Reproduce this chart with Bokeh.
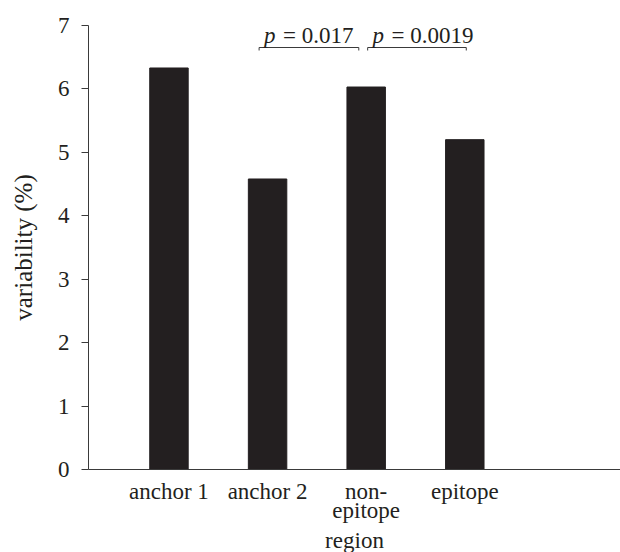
from bokeh.plotting import figure
from bokeh.models import Range1d, FixedTicker, ColumnDataSource, Title
from bokeh.core.properties import value
from bokeh.embed import file_html
from bokeh.resources import INLINE

categories = ["anchor 1", "anchor 2", "non-\nepitope", "epitope"]
variability = [6.33, 4.58, 6.03, 5.20]
y_ticks = [0, 1, 2, 3, 4, 5, 6, 7]
comparisons = [(2, 3, "= 0.017"), (3, 4, "= 0.0019")]
x_title = "region"
y_title = "variability (%)"

FONT = "Liberation Serif"
FS = "23px"
BAR = "#231f20"
AX = "#3a3a3a"
TXT = "#231f20"

xs = list(range(1, len(categories) + 1))

p = figure(width=620, height=552, output_backend="svg", toolbar_location=None,
           x_range=Range1d(0.184, 5.579), y_range=Range1d(0, 7),
           min_border_left=88, min_border_top=25, min_border_right=0, min_border_bottom=83)
p.outline_line_color = None
p.grid.grid_line_color = None
p.background_fill_color = "white"

src = ColumnDataSource(dict(x=xs, top=variability))
p.vbar(x="x", top="top", width=0.39, bottom=0, source=src, fill_color=BAR, line_color=BAR)

# y axis
ya = p.yaxis[0]
ya.ticker = FixedTicker(ticks=y_ticks)
ya.minor_tick_line_color = None
ya.major_tick_in = 0
ya.major_tick_out = 7
ya.axis_line_color = AX
ya.major_tick_line_color = AX
ya.major_label_text_font = FONT
ya.major_label_text_font_size = FS
ya.major_label_text_color = TXT
ya.major_label_standoff = 12
ya.axis_label = y_title
ya.axis_label_text_font = FONT
ya.axis_label_text_font_size = "25px"
ya.axis_label_text_font_style = "normal"
ya.axis_label_text_color = TXT
ya.axis_label_standoff = 18

# x axis
xa = p.xaxis[0]
xa.ticker = FixedTicker(ticks=xs)
xa.major_label_overrides = {x: c for x, c in zip(xs, categories)}
xa.minor_tick_line_color = None
xa.major_tick_in = 0
xa.major_tick_out = 0
xa.axis_line_color = AX
xa.major_label_text_font = FONT
xa.major_label_text_font_size = FS
xa.major_label_text_color = TXT
xa.major_label_text_line_height = 0.76
xa.major_label_standoff = 9

# x axis title as a title below the axis
p.add_layout(Title(text=x_title, align="center", offset=-27, text_font=FONT,
                   text_font_size=FS, text_font_style="normal", text_color=TXT,
                   standoff=0), "below")

# significance brackets
y_br = 6.653
y_tick = 6.606
for (a, b, lab), (ls, rs) in zip(comparisons, [(-0.086, -0.075), (0.015, 0.015)]):
    x0 = a + ls
    x1 = b + rs
    p.line(x=[x0, x0, x1, x1], y=[y_tick, y_br, y_br, y_tick], line_color=AX, line_width=1)
    tx = x0 + 0.05
    p.text(x=[tx], y=[6.84], text=["p"], text_font=value(FONT), text_font_style="italic",
           text_font_size=FS, text_color=TXT, text_baseline="alphabetic", text_align="left")
    p.text(x=[tx], y=[6.84], text=[lab], text_font=value(FONT), x_offset=19,
           text_font_size=FS, text_color=TXT, text_baseline="alphabetic", text_align="left")

open("out.html", "w").write(file_html(p, INLINE))
